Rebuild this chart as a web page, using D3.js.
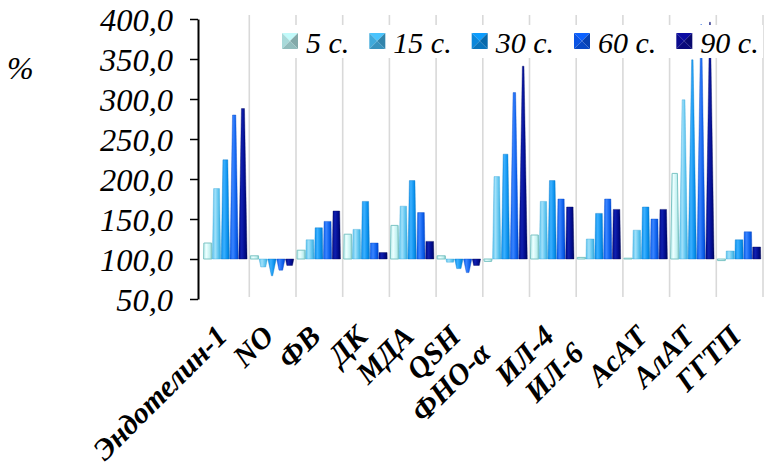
<!DOCTYPE html>
<html><head><meta charset="utf-8">
<script src="https://cdn.jsdelivr.net/npm/d3@7/dist/d3.min.js"></script>
<style>
body{margin:0;background:#fff}svg{display:block}
.serif{font-family:"Liberation Serif","Times New Roman",Tinos,"DejaVu Serif",serif;}
</style>
</head><body>
<svg id="c" width="764" height="471"></svg>
<script>
// ---- data ----
const categories = ["Эндотелин-1","NO","ФВ","ДК","МДА","QSH","ФНО-α","ИЛ-4","ИЛ-6","АсАТ","АлАТ","ГГТП"];
const seriesNames = ["5 с.","15 с.","30 с.","60 с.","90 с."];
const s5  = [120,104,111,131,142,104, 97,130,102,101,207, 98];
const s15 = [188, 90,124,137,166, 96,203,172,125,136,299,110];
const s30 = [224, 79,139,172,198, 88,231,198,157,165,349,124];
const s60 = [280, 86,147,120,158, 83,308,175,175,150,393,134];
const s90 = [288, 92,160,108,122, 92,341,165,162,162,396,115];
const yTicks = [50,100,150,200,250,300,350,400];
const yLabel = "%";
const baseValue = 100;

// ---- styles / layout ----
const barColors = [
  {edge:"#7cc4c4", mid:"#eaffff", base:"#c2f0f0"},
  {edge:"#3aa6d8", mid:"#a0e0fa", base:"#58c2ee"},
  {edge:"#0676c8", mid:"#3cb0ff", base:"#0890ec"},
  {edge:"#0646c8", mid:"#3a84ff", base:"#0a5eea"},
  {edge:"#00085e", mid:"#1020b0", base:"#000a88"}
];
const legendColors = ["#9ccaca","#3c9ecc","#0a7ecc","#0a4ed4","#0a0a84"];
const labelShift = [0,0,0,0,0,0,24,0,24,0,0,0];

const series = [s5,s15,s30,s60,s90];
const svg = d3.select("#c");
const axisX = 198;

const y = d3.scaleLinear().domain([50,400]).range([299,19]);
const x = d3.scaleBand().domain(categories).range([202.6,763]).padding(0);
const xs = d3.scaleBand().domain(seriesNames).range([1,44.5]).paddingInner(0.06);

// gradients
const defs = svg.append("defs");
barColors.forEach((c,i)=>{
  const g = defs.append("linearGradient").attr("id","g"+i).attr("x1","0").attr("x2","1").attr("y1","0").attr("y2","0");
  g.append("stop").attr("offset","0").attr("stop-color",c.base);
  g.append("stop").attr("offset","0.35").attr("stop-color",c.mid);
  g.append("stop").attr("offset","0.75").attr("stop-color",c.base);
  g.append("stop").attr("offset","1").attr("stop-color",c.edge);
});

// vertical category gridlines
svg.append("g").selectAll("line").data(categories).join("line")
  .attr("x1",d=>x(d)+x.bandwidth()).attr("x2",d=>x(d)+x.bandwidth())
  .attr("y1",15).attr("y2",297)
  .attr("stroke","#d9d9d9").attr("stroke-width",1.6);

// bars (truncated cones)
const apexHigh = 400, apexLow = 75;
const bars = [];
series.forEach((arr,si)=>arr.forEach((v,ci)=>bars.push({si,ci,v})));
svg.append("g").selectAll("path").data(bars).join("path")
  .attr("d",d=>{
    const w0 = xs.bandwidth();
    const cx = x(categories[d.ci]) + xs(seriesNames[d.si]) + w0/2;
    const y0 = y(baseValue), y1 = y(d.v);
    let tw;
    if (d.v >= baseValue) tw = w0*Math.max(0,(apexHigh-d.v)/(apexHigh-baseValue));
    else tw = w0*Math.max(0,(d.v-apexLow)/(baseValue-apexLow));
    tw = Math.max(tw,0.8);
    return `M${cx-w0/2},${y0}L${cx-tw/2},${y1}L${cx+tw/2},${y1}L${cx+w0/2},${y0}Z`;
  })
  .attr("fill",d=>`url(#g${d.si})`)
  .attr("stroke",d=>barColors[d.si].edge)
  .attr("stroke-width",d=>d.si===0?1:0.4);

// y axis
const yAxis = d3.axisLeft(y).tickValues(yTicks).tickSize(8).tickSizeOuter(0).tickPadding(17)
  .tickFormat(d=>d.toFixed(1).replace(".",","));
const ag = svg.append("g").attr("transform",`translate(${axisX},0)`).call(yAxis);
ag.attr("font-family",null).attr("font-size",null);
ag.select(".domain").attr("stroke","#000").attr("stroke-width",2);
ag.selectAll(".tick line").attr("stroke","#000").attr("stroke-width",1.5);
ag.selectAll(".tick text").attr("class","serif")
  .style("font-style","italic").style("font-size","32.5px").attr("fill","#000").attr("dy","0.36em");

// y label
svg.append("text").attr("class","serif").attr("x",7).attr("y",79).text(yLabel)
  .style("font-style","italic").style("font-size","32px").attr("fill","#000");

// category labels
svg.append("g").selectAll("text").data(categories).join("text")
  .attr("class","serif")
  .attr("transform",(d,i)=>{
    const ax = x(d)+x.bandwidth()/2+3 - labelShift[i]*Math.SQRT1_2;
    const ay = 338 + labelShift[i]*Math.SQRT1_2;
    return `translate(${ax},${ay}) rotate(-45)`;
  })
  .attr("text-anchor","end")
  .style("font-weight","bold").style("font-style","italic").style("font-size","30px").attr("fill","#000")
  .text(d=>d);

// legend
const lg = svg.append("g");
lg.append("rect").attr("x",275).attr("y",25).attr("width",488).attr("height",33).attr("fill","#fff");
let lx = 282;
seriesNames.forEach((name,i)=>{
  const g = lg.append("g").attr("transform",`translate(${lx},33)`);
  const s = 16, c = legendColors[i];
  const col = d3.color(c);
  const tris = [
    {p:`M0,0L${s},0L${s/2},${s/2}Z`, f:col.brighter(0.6)},
    {p:`M0,0L0,${s}L${s/2},${s/2}Z`, f:col.brighter(0.2)},
    {p:`M${s},0L${s},${s}L${s/2},${s/2}Z`, f:col.darker(0.5)},
    {p:`M0,${s}L${s},${s}L${s/2},${s/2}Z`, f:col.darker(0.2)}
  ];
  tris.forEach(t=>g.append("path").attr("d",t.p).attr("fill",t.f));
  const t = lg.append("text").attr("class","serif").attr("x",lx+24).attr("y",53).text(name)
    .style("font-style","italic").style("font-size","30px").attr("fill","#000");
  lx = lx + 24 + t.node().getComputedTextLength() + 20;
});
</script>
</body></html>
